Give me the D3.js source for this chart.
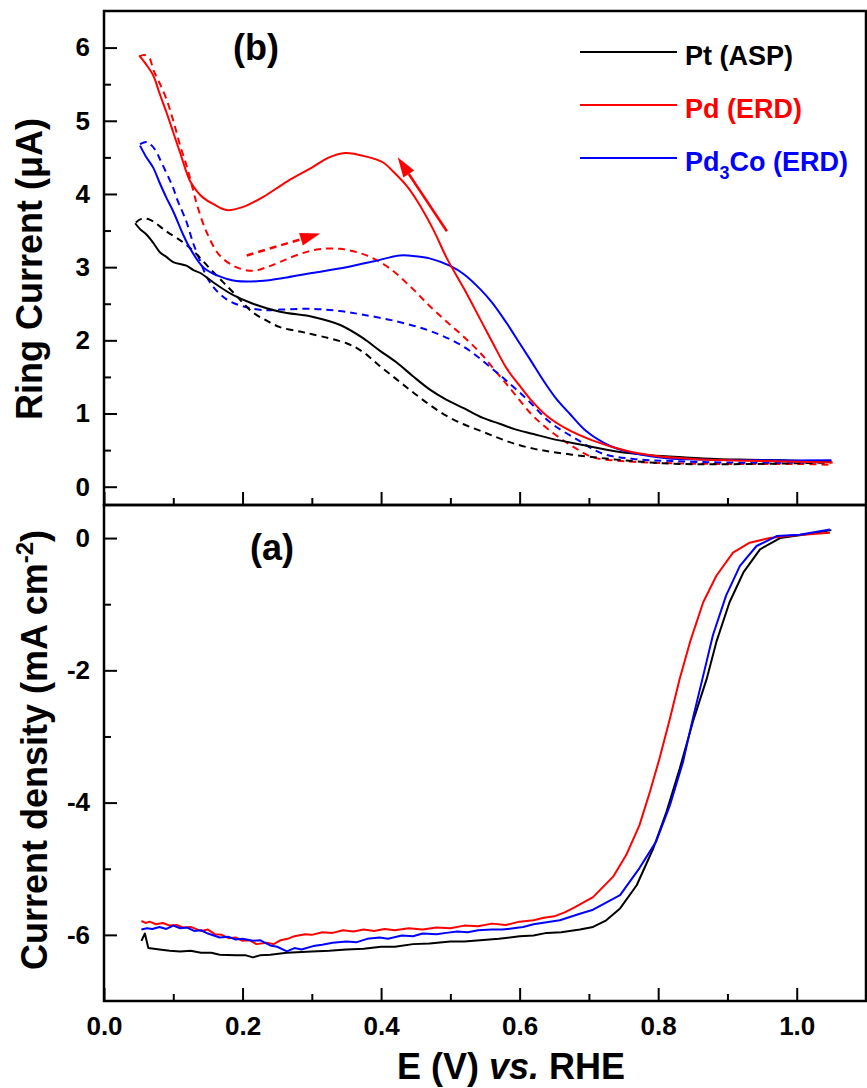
<!DOCTYPE html>
<html>
<head>
<meta charset="utf-8">
<script src="https://cdn.jsdelivr.net/npm/d3@7"></script>
<style>
  body { margin: 0; background: #fff; }
  text { font-family: "Liberation Sans", Arial, sans-serif; font-weight: bold; }
</style>
</head>
<body>
<script>
// ---- data ----
// (b) ring current, uA; solid = backward scan, dashed = forward scan
var ptRingSolid = [[0.045,3.60],[0.052,3.52],[0.062,3.44],[0.072,3.32],[0.081,3.20],[0.09,3.14],[0.1,3.07],[0.119,3.02],[0.129,2.96],[0.139,2.92],[0.158,2.79],[0.186,2.62],[0.215,2.50],[0.254,2.39],[0.302,2.32],[0.341,2.21],[0.374,2.03],[0.398,1.86],[0.422,1.70],[0.446,1.51],[0.47,1.33],[0.494,1.19],[0.52,1.07],[0.547,0.94],[0.571,0.86],[0.595,0.78],[0.62,0.72],[0.644,0.66],[0.691,0.57],[0.74,0.48],[0.788,0.43],[0.84,0.40],[0.884,0.38],[0.93,0.37],[0.98,0.36],[1.02,0.35],[1.05,0.35]];
var ptRingDash = [[0.046,3.61],[0.054,3.66],[0.066,3.65],[0.09,3.49],[0.114,3.34],[0.129,3.22],[0.158,2.93],[0.186,2.66],[0.215,2.38],[0.235,2.27],[0.254,2.18],[0.283,2.12],[0.302,2.08],[0.35,1.96],[0.374,1.84],[0.398,1.65],[0.422,1.47],[0.446,1.29],[0.47,1.12],[0.494,0.97],[0.52,0.85],[0.547,0.75],[0.571,0.66],[0.595,0.58],[0.62,0.52],[0.644,0.48],[0.691,0.42],[0.74,0.37],[0.79,0.33],[0.835,0.31],[0.93,0.31],[1.0,0.32],[1.05,0.33]];
var pdRingSolid = [[0.051,5.89],[0.06,5.78],[0.071,5.62],[0.08,5.38],[0.09,5.12],[0.1,4.84],[0.11,4.56],[0.124,4.18],[0.134,4.04],[0.143,3.95],[0.158,3.86],[0.177,3.78],[0.2,3.82],[0.23,3.96],[0.264,4.17],[0.3,4.36],[0.325,4.50],[0.348,4.56],[0.379,4.51],[0.403,4.43],[0.417,4.31],[0.437,4.11],[0.451,3.92],[0.475,3.52],[0.495,3.12],[0.52,2.70],[0.543,2.29],[0.562,1.95],[0.581,1.62],[0.6,1.38],[0.615,1.20],[0.639,0.97],[0.668,0.79],[0.706,0.63],[0.754,0.49],[0.797,0.42],[0.85,0.38],[0.9,0.36],[0.95,0.35],[1.0,0.34],[1.052,0.33]];
var pdRingDash = [[0.051,5.88],[0.058,5.9],[0.066,5.85],[0.071,5.7],[0.08,5.52],[0.09,5.3],[0.1,5.0],[0.11,4.66],[0.12,4.36],[0.129,4.04],[0.134,3.86],[0.148,3.48],[0.167,3.16],[0.191,3.0],[0.215,2.95],[0.235,3.0],[0.254,3.07],[0.28,3.17],[0.307,3.24],[0.341,3.25],[0.379,3.16],[0.413,2.98],[0.446,2.70],[0.47,2.47],[0.494,2.26],[0.518,2.06],[0.543,1.83],[0.567,1.56],[0.59,1.30],[0.615,1.01],[0.634,0.84],[0.653,0.70],[0.68,0.53],[0.706,0.40],[0.735,0.36],[0.764,0.34],[0.82,0.32],[0.9,0.31],[1.0,0.31],[1.05,0.30]];
var pd3coRingSolid = [[0.052,4.66],[0.06,4.52],[0.071,4.36],[0.08,4.16],[0.09,3.95],[0.1,3.76],[0.114,3.45],[0.124,3.26],[0.143,3.0],[0.16,2.9],[0.177,2.84],[0.191,2.81],[0.225,2.81],[0.264,2.86],[0.3,2.92],[0.35,3.0],[0.39,3.08],[0.427,3.16],[0.45,3.15],[0.47,3.12],[0.499,3.02],[0.52,2.90],[0.543,2.70],[0.56,2.52],[0.581,2.24],[0.6,1.96],[0.615,1.74],[0.635,1.44],[0.653,1.2],[0.672,1.0],[0.696,0.76],[0.73,0.56],[0.769,0.45],[0.812,0.39],[0.87,0.37],[0.95,0.36],[1.05,0.36]];
var pd3coRingDash = [[0.052,4.68],[0.062,4.71],[0.069,4.66],[0.076,4.57],[0.081,4.47],[0.1,4.08],[0.105,3.94],[0.119,3.62],[0.129,3.32],[0.134,3.2],[0.153,2.79],[0.177,2.56],[0.206,2.45],[0.235,2.41],[0.254,2.42],[0.302,2.43],[0.34,2.40],[0.374,2.35],[0.422,2.26],[0.47,2.13],[0.518,1.92],[0.567,1.56],[0.61,1.20],[0.644,0.88],[0.682,0.65],[0.72,0.45],[0.764,0.38],[0.82,0.35],[0.9,0.33],[1.0,0.33],[1.05,0.34]];

// (a) disk current density, mA cm-2
var ptDisk = [[0.054,-6.09],[0.059,-5.98],[0.064,-6.20],[0.08,-6.22],[0.095,-6.24],[0.11,-6.25],[0.125,-6.24],[0.14,-6.27],[0.155,-6.27],[0.167,-6.30],[0.19,-6.31],[0.205,-6.31],[0.215,-6.34],[0.225,-6.31],[0.24,-6.30],[0.264,-6.27],[0.3,-6.25],[0.325,-6.24],[0.35,-6.22],[0.375,-6.21],[0.4,-6.18],[0.42,-6.18],[0.446,-6.14],[0.47,-6.13],[0.5,-6.10],[0.52,-6.10],[0.543,-6.08],[0.57,-6.06],[0.6,-6.02],[0.62,-6.01],[0.639,-5.97],[0.66,-5.96],[0.687,-5.92],[0.706,-5.88],[0.725,-5.78],[0.745,-5.60],[0.769,-5.25],[0.793,-4.69],[0.812,-4.14],[0.831,-3.49],[0.85,-2.78],[0.87,-2.13],[0.884,-1.57],[0.903,-0.97],[0.923,-0.52],[0.947,-0.17],[0.976,0.0],[1.009,0.05],[1.05,0.12]];
var pdDisk = [[0.054,-5.79],[0.06,-5.82],[0.066,-5.80],[0.075,-5.84],[0.085,-5.82],[0.095,-5.86],[0.105,-5.85],[0.115,-5.89],[0.125,-5.88],[0.14,-5.94],[0.15,-5.92],[0.16,-5.99],[0.17,-6.0],[0.18,-6.05],[0.19,-6.04],[0.2,-6.09],[0.21,-6.08],[0.22,-6.14],[0.235,-6.12],[0.245,-6.14],[0.255,-6.08],[0.265,-6.06],[0.275,-6.02],[0.29,-5.99],[0.3,-6.0],[0.315,-5.96],[0.33,-5.97],[0.345,-5.93],[0.36,-5.95],[0.375,-5.92],[0.39,-5.94],[0.405,-5.91],[0.42,-5.93],[0.44,-5.90],[0.46,-5.92],[0.48,-5.89],[0.5,-5.90],[0.52,-5.86],[0.54,-5.87],[0.56,-5.83],[0.58,-5.85],[0.6,-5.80],[0.62,-5.78],[0.635,-5.74],[0.65,-5.72],[0.665,-5.66],[0.68,-5.58],[0.706,-5.43],[0.735,-5.12],[0.754,-4.79],[0.773,-4.34],[0.788,-3.84],[0.802,-3.33],[0.817,-2.73],[0.831,-2.13],[0.846,-1.57],[0.865,-0.97],[0.884,-0.57],[0.908,-0.22],[0.932,-0.07],[0.961,0.0],[0.994,0.04],[1.048,0.08]];
var pd3coDisk = [[0.054,-5.92],[0.062,-5.90],[0.07,-5.91],[0.08,-5.88],[0.09,-5.91],[0.1,-5.86],[0.11,-5.90],[0.12,-5.89],[0.13,-5.94],[0.14,-5.93],[0.15,-5.98],[0.167,-6.04],[0.18,-6.03],[0.19,-6.07],[0.2,-6.06],[0.215,-6.09],[0.225,-6.08],[0.24,-6.16],[0.25,-6.18],[0.264,-6.25],[0.275,-6.20],[0.285,-6.22],[0.302,-6.17],[0.315,-6.15],[0.33,-6.12],[0.35,-6.10],[0.365,-6.11],[0.38,-6.06],[0.398,-6.04],[0.41,-6.06],[0.43,-6.01],[0.446,-6.02],[0.46,-5.98],[0.48,-5.99],[0.494,-5.97],[0.51,-5.95],[0.525,-5.96],[0.54,-5.93],[0.56,-5.92],[0.575,-5.92],[0.591,-5.90],[0.605,-5.88],[0.62,-5.84],[0.639,-5.81],[0.658,-5.78],[0.687,-5.68],[0.706,-5.62],[0.745,-5.40],[0.773,-4.99],[0.797,-4.59],[0.817,-4.04],[0.836,-3.38],[0.85,-2.73],[0.865,-2.08],[0.879,-1.47],[0.898,-0.87],[0.918,-0.42],[0.942,-0.12],[0.971,0.03],[1.004,0.05],[1.048,0.13]];

// scan direction arrows on the Pd ring curves: [start, tip]
var arrowBack = [[0.495,3.49],[0.424,4.50]];
var arrowFwd = [[0.206,3.16],[0.312,3.46]];

var legendNames = ["Pt (ASP)", "Pd (ERD)", "Pd3Co (ERD)"];
var seriesColors = ["#000000", "#ff0000", "#0000ff"];

var xTicks = [0, 0.2, 0.4, 0.6, 0.8, 1.0];
var xMinor = [0.1, 0.3, 0.5, 0.7, 0.9];
var ringTicks = [0, 1, 2, 3, 4, 5, 6];
var ringMinor = [0.5, 1.5, 2.5, 3.5, 4.5, 5.5];
var diskTicks = [0, -2, -4, -6];
var diskMinor = [-1, -3, -5];

function init() {
    var width = 867, height = 1088;
    var left = 104, right = 866, top = 11, mid = 505, bottom = 1001;

    var svg = d3.select("body").append("svg")
        .attr("width", width)
        .attr("height", height);

    svg.append("rect").attr("width", width).attr("height", height).attr("fill", "#fff");

    var x = d3.scaleLinear().domain([0, 1.1]).range([left, right]);
    var yRing = d3.scaleLinear().domain([-0.25, 6.5]).range([mid, top]);
    var yDisk = d3.scaleLinear().domain([-7, 0.5]).range([bottom, mid]);

    // axes with ticks pointing inward
    function styleAxis(g, size) {
        g.select(".domain").remove();
        g.selectAll("line").attr("stroke", "#000").attr("stroke-width", 2);
        g.selectAll("text").attr("font-size", size).attr("fill", "#000")
            .attr("font-family", "Liberation Sans, Arial, sans-serif").attr("font-weight", "bold");
    }

    // top panel left axis
    svg.append("g").attr("transform", "translate(" + left + ",0)")
        .call(d3.axisLeft(yRing).tickValues(ringTicks).tickSize(-13).tickPadding(14).tickFormat(d3.format("d")))
        .call(styleAxis, 26);
    svg.append("g").attr("transform", "translate(" + left + ",0)")
        .call(d3.axisLeft(yRing).tickValues(ringMinor).tickSize(-7).tickFormat(""))
        .call(styleAxis, 26);
    // top panel bottom ticks (no labels)
    svg.append("g").attr("transform", "translate(0," + mid + ")")
        .call(d3.axisBottom(x).tickValues(xTicks).tickSize(-13).tickFormat(""))
        .call(styleAxis, 26);
    svg.append("g").attr("transform", "translate(0," + mid + ")")
        .call(d3.axisBottom(x).tickValues(xMinor).tickSize(-7).tickFormat(""))
        .call(styleAxis, 26);

    // bottom panel left axis
    svg.append("g").attr("transform", "translate(" + left + ",0)")
        .call(d3.axisLeft(yDisk).tickValues(diskTicks).tickSize(-13).tickPadding(14).tickFormat(function(d) { return String(d); }))
        .call(styleAxis, 26);
    svg.append("g").attr("transform", "translate(" + left + ",0)")
        .call(d3.axisLeft(yDisk).tickValues(diskMinor).tickSize(-7).tickFormat(""))
        .call(styleAxis, 26);
    // bottom x axis
    svg.append("g").attr("transform", "translate(0," + bottom + ")")
        .call(d3.axisBottom(x).tickValues(xTicks).tickSize(-13).tickPadding(16).tickFormat(d3.format(".1f")))
        .call(styleAxis, 26);
    svg.append("g").attr("transform", "translate(0," + bottom + ")")
        .call(d3.axisBottom(x).tickValues(xMinor).tickSize(-7).tickFormat(""))
        .call(styleAxis, 26);

    // curves
    var ringLoop = d3.line().x(function(d) { return x(d[0]); }).y(function(d) { return yRing(d[1]); }).curve(d3.curveCatmullRom.alpha(0.5));
    var diskLine = d3.line().x(function(d) { return x(d[0]); }).y(function(d) { return yDisk(d[1]); });

    var ringSeries = [
        { data: pdRingDash, color: seriesColors[1], dash: "7,5" },
        { data: pd3coRingDash, color: seriesColors[2], dash: "7,5" },
        { data: ptRingDash, color: seriesColors[0], dash: "7,5" },
        { data: ptRingSolid, color: seriesColors[0], dash: null },
        { data: pd3coRingSolid, color: seriesColors[2], dash: null },
        { data: pdRingSolid, color: seriesColors[1], dash: null }
    ];
    svg.append("g").selectAll("path")
        .data(ringSeries)
        .enter().append("path")
        .attr("d", function(d) { return ringLoop(d.data); })
        .attr("fill", "none")
        .attr("stroke", function(d) { return d.color; })
        .attr("stroke-width", 2)
        .attr("stroke-dasharray", function(d) { return d.dash; });

    var diskSeries = [
        { data: ptDisk, color: seriesColors[0] },
        { data: pdDisk, color: seriesColors[1] },
        { data: pd3coDisk, color: seriesColors[2] }
    ];
    svg.append("g").selectAll("path")
        .data(diskSeries)
        .enter().append("path")
        .attr("d", function(d) { return diskLine(d.data); })
        .attr("fill", "none")
        .attr("stroke", function(d) { return d.color; })
        .attr("stroke-width", 2)
        .attr("stroke-linejoin", "round");

    // arrows
    function drawArrow(pts, dash) {
        var x0 = x(pts[0][0]), y0 = yRing(pts[0][1]);
        var x1 = x(pts[1][0]), y1 = yRing(pts[1][1]);
        var ang = Math.atan2(y1 - y0, x1 - x0);
        var len = 20, half = 6.5;
        var bx = x1 - len * Math.cos(ang), by = y1 - len * Math.sin(ang);
        svg.append("line")
            .attr("x1", x0).attr("y1", y0).attr("x2", bx).attr("y2", by)
            .attr("stroke", "#ff0000").attr("stroke-width", 2.5)
            .attr("stroke-dasharray", dash);
        var p = [[x1, y1],
                 [bx + half * Math.sin(ang), by - half * Math.cos(ang)],
                 [bx - half * Math.sin(ang), by + half * Math.cos(ang)]];
        svg.append("polygon").attr("points", p.map(function(q) { return q.join(","); }).join(" "))
            .attr("fill", "#ff0000");
    }
    drawArrow(arrowBack, null);
    drawArrow(arrowFwd, "7,5");

    // frames
    svg.append("rect").attr("x", left).attr("y", top).attr("width", right - left).attr("height", mid - top)
        .attr("fill", "none").attr("stroke", "#000").attr("stroke-width", 2.5);
    svg.append("rect").attr("x", left).attr("y", mid).attr("width", right - left).attr("height", bottom - mid)
        .attr("fill", "none").attr("stroke", "#000").attr("stroke-width", 2.5);

    // panel labels
    svg.append("text").attr("x", 256).attr("y", 60).attr("text-anchor", "middle").attr("font-size", 36).text("(b)");
    svg.append("text").attr("x", 272).attr("y", 560).attr("text-anchor", "middle").attr("font-size", 36).text("(a)");

    // axis titles
    svg.append("text").attr("transform", "translate(42,269) rotate(-90)").attr("text-anchor", "middle")
        .attr("font-size", 36).text("Ring Current (\u03bcA)");
    var t2 = svg.append("text").attr("transform", "translate(47,750) rotate(-90)").attr("text-anchor", "middle")
        .attr("font-size", 36);
    t2.append("tspan").text("Current density (mA cm");
    t2.append("tspan").attr("font-size", 24).attr("dy", -14).text("-2");
    t2.append("tspan").attr("dy", 14).text(")");

    var t3 = svg.append("text").attr("x", 511).attr("y", 1079).attr("text-anchor", "middle").attr("font-size", 36);
    t3.append("tspan").text("E (V) ");
    t3.append("tspan").attr("font-style", "italic").text("vs.");
    t3.append("tspan").text(" RHE");

    // legend
    var legend = svg.append("g").attr("transform", "translate(580,52)");
    legendNames.forEach(function(name, i) {
        var gy = i * 53;
        legend.append("line").attr("x1", 0).attr("x2", 97).attr("y1", gy).attr("y2", gy)
            .attr("stroke", seriesColors[i]).attr("stroke-width", 2);
        var t = legend.append("text").attr("x", 105).attr("y", gy + 13).attr("font-size", 27).attr("fill", seriesColors[i]);
        if (name.indexOf("Pd3Co") === 0) {
            t.append("tspan").text("Pd");
            t.append("tspan").attr("font-size", 18).attr("dy", 8).text("3");
            t.append("tspan").attr("dy", -8).text(name.slice(3));
        } else {
            t.text(name);
        }
    });
}

window.onload = init;
</script>
</body>
</html>
